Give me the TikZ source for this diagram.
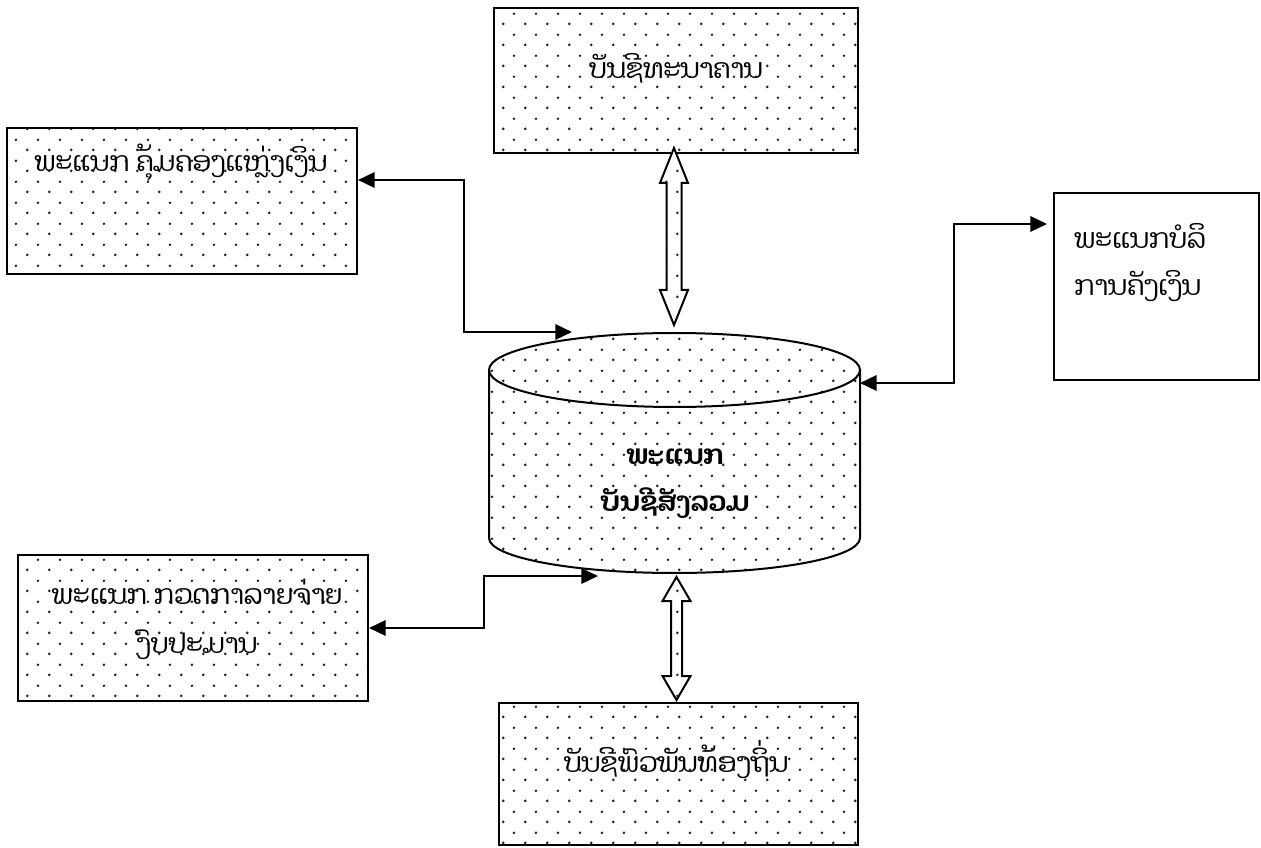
\documentclass[tikz,border=0pt]{standalone}
\usepackage{fontspec}
\newfontfamily\laofont[Script=Lao]{Dhyana}
\usetikzlibrary{patterns,arrows.meta}

% sparse staggered dot fill
\pgfdeclarepatternformonly{sparsedots}{\pgfpointorigin}{\pgfqpoint{16.25pt}{15.75pt}}{\pgfqpoint{16.25pt}{15.75pt}}{%
  \pgfpathcircle{\pgfqpoint{4pt}{4pt}}{1.1pt}%
  \pgfpathcircle{\pgfqpoint{12.125pt}{11.875pt}}{1.1pt}%
  \pgfusepath{fill}}

\newcommand\dblarrow[6]{% x, top tip, bottom tip, head length, head half-width, shaft half-width
  \draw[blockarrow] (#1,#2) -- (#1+#5,#2+#4) -- (#1+#6,#2+#4) -- (#1+#6,#3-#4)
    -- (#1+#5,#3-#4) -- (#1,#3) -- (#1-#5,#3-#4) -- (#1-#6,#3-#4)
    -- (#1-#6,#2+#4) -- (#1-#5,#2+#4) -- cycle;}

\begin{document}
\begin{tikzpicture}[x=0.75pt,y=-0.75pt,
  dotfill/.style={pattern=sparsedots,pattern color=black!85},
  unit/.style={draw,line width=1.5pt,dotfill,inner sep=0pt},
  plainunit/.style={draw,line width=1.5pt,fill=white,inner sep=0pt},
  lbl/.style={font=\laofont\fontsize{20.5}{25}\selectfont,inner sep=0pt,align=center},
  boldlbl/.style={lbl,font=\laofont\bfseries\fontsize{20.5}{25}\selectfont},
  link/.style={line width=1.9pt,{Triangle[length=12.5pt,width=11.5pt]}-{Triangle[length=12.5pt,width=11.5pt]}},
  blockarrow/.style={draw,line width=1.5pt,fill=white,postaction={dotfill},line join=miter}]
\useasboundingbox (0,0) rectangle (1261,848);

% departments
\node[unit,minimum width=364*0.75pt,minimum height=145*0.75pt] (bank) at (676,80.5) {};
\node[lbl] (bank-t) at (676,68) {ບັນຊີທະນາຄານ};

\node[unit,minimum width=350*0.75pt,minimum height=146*0.75pt] (fund) at (182,201) {};
\node[lbl] (fund-t) at (181,163) {ພະແນກ ຄຸ້ມຄອງແຫຼ່ງເງິນ};

\node[plainunit,minimum width=205*0.75pt,minimum height=187*0.75pt] (treasury) at (1156.5,286.5) {};
\node[lbl,anchor=west,align=left] (treasury-t1) at (1074,236) {ພະແນກບໍລິ};
\node[lbl,anchor=west,align=left] (treasury-t2) at (1074,286) {ການຄັງເງິນ};

\node[unit,minimum width=350*0.75pt,minimum height=146*0.75pt] (audit) at (193,628) {};
\node[lbl] (audit-t1) at (197,592) {ພະແນກ ກວດກາລາຍຈ່າຍ};
\node[lbl] (audit-t2) at (197,645) {ງົບປະມານ};

\node[unit,minimum width=359*0.75pt,minimum height=142*0.75pt] (local) at (678.5,774) {};
\node[lbl] (local-t) at (676,760) {ບັນຊີພົວພັນທ້ອງຖິ່ນ};

% general ledger drum (y axis points down, so arcs run the other way)
\path[dotfill] (489,370) -- (489,538) arc[start angle=180,end angle=0,x radius=185.5,y radius=35]
  -- (860,370) arc[start angle=0,end angle=-180,x radius=185.5,y radius=37] -- cycle;
\draw[line width=1.5pt] (489,370) -- (489,538) arc[start angle=180,end angle=0,x radius=185.5,y radius=35]
  -- (860,370);
\draw[line width=1.5pt] (674.5,370) ellipse[x radius=185.5,y radius=37];
\node[boldlbl] (ledger-t1) at (675,457) {ພະແນກ};
\node[boldlbl] (ledger-t2) at (675,503) {ບັນຊີສັງລວມ};

\coordinate (ledger-nw) at (572,332);
\coordinate (ledger-sw) at (598,576);
\coordinate (ledger-e) at (860,383);

% connectors
\draw[link] (fund.east |- 0,180) -| (464,332) -- (ledger-nw);
\draw[link] (audit.east) -| (484,576) -- (ledger-sw);
\draw[link,shorten >=4.5pt] (ledger-e) -| (954,224) -- (treasury.west |- 0,224);

\dblarrow{674}{148}{325}{35}{14}{7.5}
\dblarrow{676.5}{577}{700}{24}{14}{5.5}
\end{tikzpicture}
\end{document}
